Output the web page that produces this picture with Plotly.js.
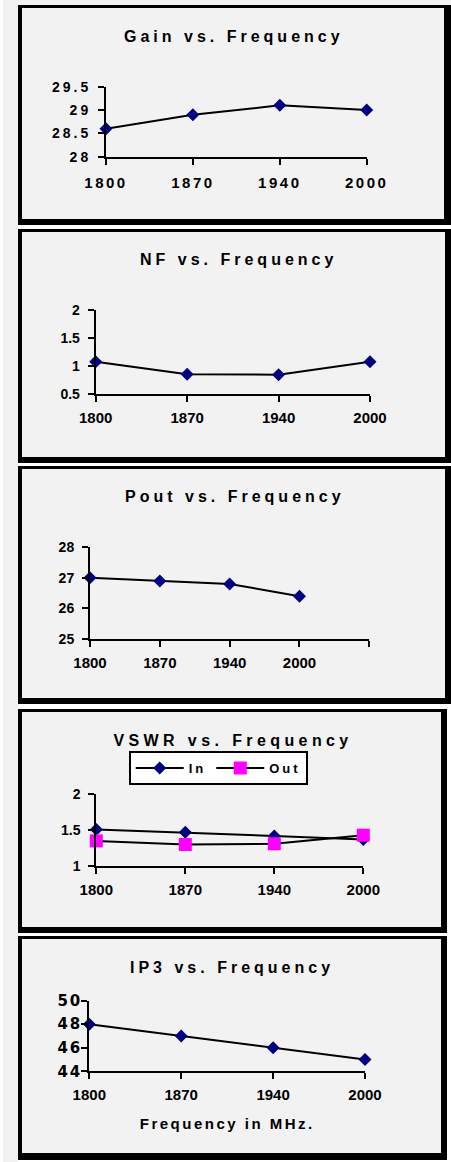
<!DOCTYPE html>
<html><head><meta charset="utf-8">
<script src="https://cdn.plot.ly/plotly-3.0.1.min.js"></script>
<style>
html,body{margin:0;padding:0;background:#fff;overflow:hidden;}
#chart{width:451px;height:1162px;}
svg text{font-weight:700 !important;}
.xtick text{letter-spacing:2.5px;}
.ytick text{letter-spacing:3px;}
.y5tick text{letter-spacing:2px;}
.annotation-text{letter-spacing:4px;}
.annotation[data-index="3"] .annotation-text{letter-spacing:4.4px;}
.annotation[data-index="5"] .annotation-text{letter-spacing:2.5px;}
.legendtext{letter-spacing:3px;}
</style></head><body><div id="chart"></div>
<script>
// ---- data ----
const freqs = ['1800', '1870', '1940', '2000'];
const gain = [28.6, 28.9, 29.1, 29.0];
const nf = [1.08, 0.86, 0.85, 1.08];
const pout = [27.0, 26.9, 26.8, 26.4];
const vswrIn = [1.51, 1.47, 1.42, 1.37];
const vswrOut = [1.35, 1.30, 1.31, 1.43];
const ip3 = [48, 47, 46, 45];
const titles = ['Gain vs. Frequency', 'NF vs. Frequency', 'Pout vs. Frequency', 'VSWR vs. Frequency', 'IP3 vs. Frequency'];
const xTitle = 'Frequency in MHz.';
const vswrNames = ['In', 'Out'];

// ---- layout helpers ----
const W = 451, H = 1162;
const px = x => x / W;
const py = y => 1 - y / H;
const FONT = 'Liberation Sans, Arial, sans-serif';
const WIDEFONT = 'DejaVu Sans, Verdana, sans-serif';
const NAVY = '#000080', MAG = '#FF00FF', BG = '#f2f2f2';

// plot areas in pixels
const areas = [
  {x0: 106, x1: 366.7, y0: 86.7, y1: 156.7, yr: [28, 29.5], dt: 0.5, ys: 4, xs: 5},
  {x0: 95.7, x1: 370, y0: 310.3, y1: 394.3, yr: [0.5, 2], dt: 0.5, ys: 5, xs: 3},
  {x0: 90, x1: 369.3, y0: 547.3, y1: 639, yr: [25, 28], dt: 1, ys: 5, xs: 3},
  {x0: 96.3, x1: 363.3, y0: 794.3, y1: 866, yr: [1, 2], dt: 0.5, ys: 5, xs: 3},
  {x0: 89.3, x1: 365, y0: 1000.7, y1: 1071.3, yr: [44, 50], dt: 2, ys: -4, xs: 3}
];
const panels = [
  {o: [18, 5, 451, 225], i: [22, 8, 444, 219]},
  {o: [18, 229, 451, 463], i: [22, 232, 445, 457]},
  {o: [18, 466, 451, 704], i: [22, 469, 445, 698]},
  {o: [18, 709, 447, 933], i: [22, 712, 441, 927]},
  {o: [18, 936, 447, 1160], i: [22, 939, 441, 1153]}
];
const titlePos = [[234, 36.3], [238.8, 259.5], [234.8, 496.3], [233, 740.3], [232.3, 967.8]];

function mk(axIdx, y, name, color, symbol, size, show) {
  const s = axIdx === 1 ? '' : String(axIdx);
  return {
    type: 'scatter', mode: 'lines+markers', x: freqs, y: y, name: name,
    xaxis: 'x' + s, yaxis: 'y' + s, cliponaxis: false, showlegend: !!show,
    line: {color: '#000', width: 2},
    marker: {color: color, symbol: symbol, size: size},
    hoverinfo: 'skip'
  };
}

const data = [
  mk(1, gain, 'Gain', NAVY, 'diamond', 10, false),
  mk(2, nf, 'NF', NAVY, 'diamond', 10, false),
  mk(3, pout, 'Pout', NAVY, 'diamond', 10, false),
  mk(4, vswrIn, vswrNames[0], NAVY, 'diamond', 10, true),
  mk(4, vswrOut, vswrNames[1], MAG, 'square', 13, true),
  mk(5, ip3, 'IP3', NAVY, 'diamond', 10, false)
];

const layout = {
  width: W, height: H,
  margin: {l: 0, r: 0, t: 0, b: 0},
  paper_bgcolor: '#fff', plot_bgcolor: 'rgba(0,0,0,0)',
  font: {family: FONT, color: '#000', weight: 'bold'},
  showlegend: true,
  legend: {
    orientation: 'h', x: px(128.7), y: py(751), xanchor: 'left', yanchor: 'top',
    bgcolor: '#fff', bordercolor: '#000', borderwidth: 2,
    font: {family: FONT, size: 13, color: '#000', weight: 'bold'},
    itemwidth: 48
  },
  shapes: [],
  annotations: []
};

// background
layout.shapes.push({type: 'rect', xref: 'paper', yref: 'paper', x0: px(3), x1: px(18), y0: py(1162), y1: py(0), fillcolor: BG, line: {width: 0}, layer: 'below'});
layout.shapes.push({type: 'rect', xref: 'paper', yref: 'paper', x0: px(3), x1: px(451), y0: py(5), y1: py(0), fillcolor: BG, line: {width: 0}, layer: 'below'});
panels.forEach(p => {
  layout.shapes.push({type: 'rect', xref: 'paper', yref: 'paper', x0: px(p.o[0]), x1: px(p.o[2]), y0: py(p.o[3]), y1: py(p.o[1]), fillcolor: '#000', line: {width: 0}, layer: 'below'});
  layout.shapes.push({type: 'rect', xref: 'paper', yref: 'paper', x0: px(p.i[0]), x1: px(p.i[2]), y0: py(p.i[3]), y1: py(p.i[1]), fillcolor: BG, line: {width: 0}, layer: 'below'});
});

areas.forEach((a, k) => {
  const s = k === 0 ? '' : String(k + 1);
  const xa = {
    type: 'category', domain: [px(a.x0), px(a.x1)], anchor: 'y' + s,
    range: k === 2 ? [0, 4] : [0, 3], fixedrange: true,
    showline: true, linecolor: '#000', linewidth: 2, mirror: false,
    showgrid: false, zeroline: false,
    ticks: 'outside', ticklen: 6, tickwidth: 2, tickcolor: '#000',
    ticklabelstandoff: a.xs,
    tickfont: {family: FONT, size: 15, color: '#000', weight: 'bold'}
  };
  if (k === 2) {
    xa.tickmode = 'array';
    xa.tickvals = [0, 1, 2, 3, 4];
    xa.ticktext = freqs.concat(['']);
  }
  const ya = {
    domain: [py(a.y1), py(a.y0)], anchor: 'x' + s, range: a.yr, dtick: a.dt, tick0: a.yr[0],
    fixedrange: true, showline: true, linecolor: '#000', linewidth: 2,
    showgrid: false, zeroline: false,
    ticks: 'outside', ticklen: 6, tickwidth: 2, tickcolor: '#000',
    ticklabelstandoff: a.ys,
    tickfont: k === 4 ? {family: WIDEFONT, size: 15, color: '#000', weight: 'bold'}
                      : {family: FONT, size: 14, color: '#000', weight: 'bold'}
  };
  layout['xaxis' + s] = xa;
  layout['yaxis' + s] = ya;
  layout.annotations.push({
    xref: 'paper', yref: 'paper', x: px(titlePos[k][0]), y: py(titlePos[k][1]),
    xanchor: 'center', yanchor: 'middle', showarrow: false, text: titles[k],
    font: {family: FONT, size: 16, color: '#000', weight: 'bold'}
  });
});
layout.annotations.push({
  xref: 'paper', yref: 'paper', x: px(228), y: py(1123.3),
  xanchor: 'center', yanchor: 'middle', showarrow: false, text: xTitle,
  font: {family: FONT, size: 15, color: '#000', weight: 'bold'}
});

Plotly.newPlot('chart', data, layout, {displayModeBar: false, staticPlot: true});
</script></body></html>
